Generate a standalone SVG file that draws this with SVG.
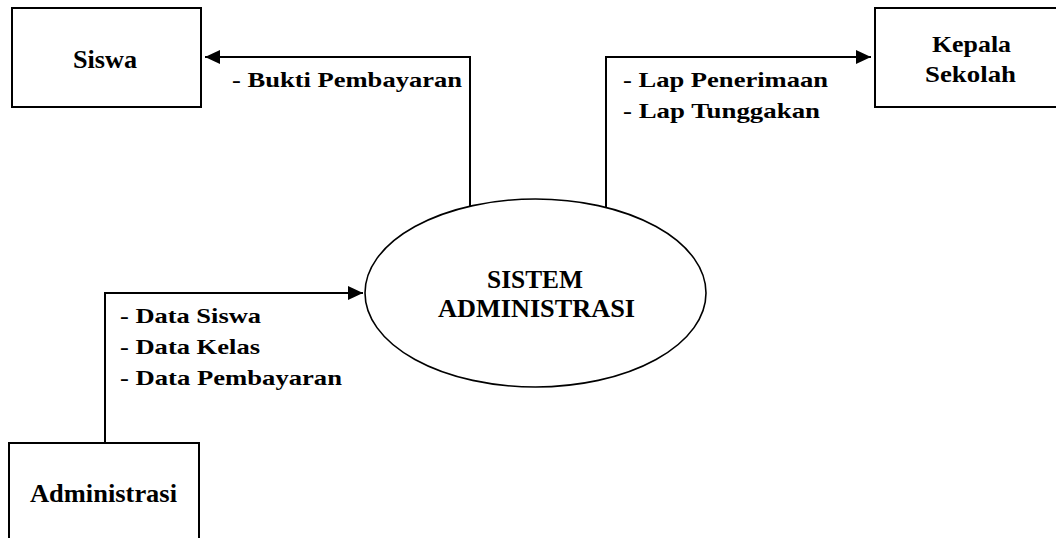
<svg xmlns="http://www.w3.org/2000/svg" width="1056" height="538" viewBox="0 0 1056 538">
<style>
.box{fill:#fff;stroke:#000;stroke-width:2}
.proc{fill:#fff;stroke:#000;stroke-width:1.6}
.flow{fill:none;stroke:#000;stroke-width:2}
.c{text-anchor:middle}
</style>
<defs>
<marker id="ah" markerWidth="16" markerHeight="14" refX="15" refY="7" orient="auto" markerUnits="userSpaceOnUse">
<path d="M0,0 L15,7 L0,14 Z" fill="#000"/>
</marker>
</defs>
<g font-family="'Liberation Serif', 'Times New Roman', 'DejaVu Serif', serif" font-weight="bold" fill="#000">
<g id="connectors" font-size="21">
<path class="flow" d="M470,206 L470,57 L205,57" marker-end="url(#ah)"/>
<path class="flow" d="M606,207 L606,57 L871,57" marker-end="url(#ah)"/>
<path class="flow" d="M105,443 L105,293 L363,293" marker-end="url(#ah)"/>
<text x="232" y="87" textLength="230" lengthAdjust="spacingAndGlyphs">- Bukti Pembayaran</text>
<text x="623" y="87" textLength="205" lengthAdjust="spacingAndGlyphs">- Lap Penerimaan</text>
<text x="623" y="118" textLength="197" lengthAdjust="spacingAndGlyphs">- Lap Tunggakan</text>
<text x="120" y="323" textLength="141" lengthAdjust="spacingAndGlyphs">- Data Siswa</text>
<text x="120" y="354" textLength="140" lengthAdjust="spacingAndGlyphs">- Data Kelas</text>
<text x="120" y="385" textLength="222" lengthAdjust="spacingAndGlyphs">- Data Pembayaran</text>
</g>
<g id="siswa">
<rect class="box" x="12" y="8" width="189" height="99"/>
<text x="73" y="68" font-size="25" textLength="64" lengthAdjust="spacingAndGlyphs">Siswa</text>
</g>
<g id="kepala-sekolah">
<rect class="box" x="875" y="8" width="200" height="99"/>
<text x="932" y="52" font-size="23" textLength="79" lengthAdjust="spacingAndGlyphs">Kepala</text>
<text x="925" y="82" font-size="23" textLength="91" lengthAdjust="spacingAndGlyphs">Sekolah</text>
</g>
<g id="administrasi">
<rect class="box" x="9" y="443" width="190" height="120"/>
<text x="30" y="502" font-size="26" textLength="147" lengthAdjust="spacingAndGlyphs">Administrasi</text>
</g>
<g id="sistem-administrasi">
<ellipse class="proc" cx="535.5" cy="293" rx="170.5" ry="94"/>
<text x="487" y="288" font-size="26" textLength="96" lengthAdjust="spacingAndGlyphs">SISTEM</text>
<text x="438" y="317" font-size="26" textLength="197" lengthAdjust="spacingAndGlyphs">ADMINISTRASI</text>
</g>
</g>
</svg>
